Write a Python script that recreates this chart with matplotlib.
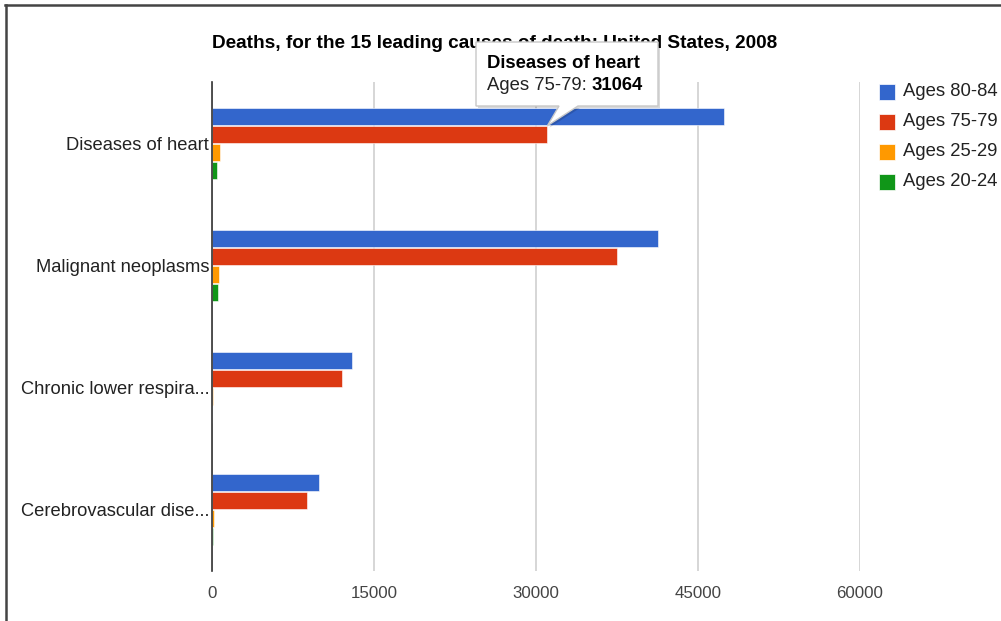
import matplotlib
matplotlib.use("Agg")
import matplotlib.pyplot as plt
from matplotlib.patches import Polygon, Rectangle
from matplotlib.lines import Line2D
import numpy as np

plt.rcParams['font.family'] = ['Liberation Sans', 'DejaVu Sans']

title = "Deaths, for the 15 leading causes of death: United States, 2008"
categories = ["Diseases of heart", "Malignant neoplasms",
              "Chronic lower respira...", "Cerebrovascular dise..."]
series_names = ["Ages 80-84", "Ages 75-79", "Ages 25-29", "Ages 20-24"]
ages_80_84 = [47400, 41250, 13000, 9870]
ages_75_79 = [31064, 37470, 12080, 8800]
ages_25_29 = [760, 630, 60, 190]
ages_20_24 = [430, 530, 40, 90]
series_values = [ages_80_84, ages_75_79, ages_25_29, ages_20_24]
colors = ["#3366CC", "#DC3912", "#FF9900", "#109618"]
xticks = [0, 15000, 30000, 45000, 60000]
tooltip_cat = 0
tooltip_series = 1

W, H = 1001, 621
fig = plt.figure(figsize=(W / 100, H / 100), dpi=100)
fig.patch.set_facecolor("white")

def fx(x):
    return x / W

def fy(y):
    return 1 - y / H

ax = fig.add_axes([fx(212), fy(571), fx(860) - fx(212), fy(82) - fy(571)])
ax.set_xlim(0, 60000)
ax.set_ylim(len(categories) - 0.5, -0.5)

bar_h = 0.139
step = 0.147
for si, (vals, col) in enumerate(zip(series_values, colors)):
    off = (si - 1.5) * step
    y = np.arange(len(categories)) + off
    ax.barh(y, vals, height=bar_h, color=col, edgecolor="white",
            linewidth=0.4, zorder=3, label=series_names[si])

ax.set_xticks(xticks)
ax.set_xticklabels([str(t) for t in xticks], fontsize=12.2, color="#444444")
ax.set_yticks(np.arange(len(categories)))
ax.set_yticklabels(categories, fontsize=13.2, color="#222222")
ax.tick_params(axis="both", length=0)
ax.tick_params(axis="x", pad=11)
ax.tick_params(axis="y", pad=2)
ax.grid(axis="x", color="#d0d0d0", linewidth=1.2, zorder=0)
for s in ["top", "right", "bottom"]:
    ax.spines[s].set_visible(False)
ax.spines["left"].set_color("#333333")
ax.spines["left"].set_linewidth(1.2)
ax.spines["left"].set_zorder(4)

# title
fig.text(fx(495), fy(43), title, ha="center", va="center",
         fontsize=13.7, fontweight="bold", color="#000000", zorder=1)

# legend (manual, Google-chart style)
for i, (name, col) in enumerate(zip(series_names, colors)):
    yc = 92 + i * 30
    fig.patches.append(Rectangle((fx(879), fy(yc + 8)), fx(16), 16 / H,
                                 transform=fig.transFigure, facecolor=col,
                                 edgecolor="white", linewidth=0.5))
    fig.text(fx(903), fy(yc), name, ha="left", va="center",
             fontsize=13.3, color="#222222")

# tooltip
fig.canvas.draw()
val = series_values[tooltip_series][tooltip_cat]
ytop = tooltip_cat + (tooltip_series - 1.5) * step - bar_h / 2
tip_disp = ax.transData.transform((val, ytop))
tip = fig.transFigure.inverted().transform(tip_disp)
bx0, bx1, by0, by1 = 476, 658, 42, 106
poly = [(fx(bx0), fy(by0)), (fx(bx1), fy(by0)), (fx(bx1), fy(by1)),
        (fx(578), fy(by1)), (tip[0], tip[1]), (fx(559), fy(by1)),
        (fx(bx0), fy(by1))]
shadow = [(x + 2 / W, y - 2 / H) for x, y in poly]
fig.patches.append(Polygon(shadow, closed=True, transform=fig.transFigure,
                           facecolor="#000000", alpha=0.15, edgecolor="none",
                           zorder=10))
fig.patches.append(Polygon(poly, closed=True, transform=fig.transFigure,
                           facecolor="white", edgecolor="#c8c8c8",
                           linewidth=1, zorder=11))
fig.text(fx(487), fy(63), categories[tooltip_cat], ha="left", va="center",
         fontsize=13.3, fontweight="bold", color="#000000", zorder=12)
t1 = fig.text(fx(487), fy(86), series_names[tooltip_series] + ": ",
              ha="left", va="center", fontsize=13.3, color="#222222",
              zorder=12)
fig.canvas.draw()
bb = t1.get_window_extent()
x_end = fig.transFigure.inverted().transform((bb.x1, bb.y0))[0]
fig.text(x_end, fy(86), str(val), ha="left", va="center", fontsize=13.3,
         fontweight="bold", color="#000000", zorder=12)

# outer frame
fig.lines.append(Line2D([fx(5), 1], [fy(5), fy(5)], transform=fig.transFigure,
                        color="#444444", linewidth=1.8))
fig.lines.append(Line2D([fx(5.5), fx(5.5)], [fy(5), 0], transform=fig.transFigure,
                        color="#444444", linewidth=1.8))

fig.savefig("out.png", dpi=100, facecolor="white")
